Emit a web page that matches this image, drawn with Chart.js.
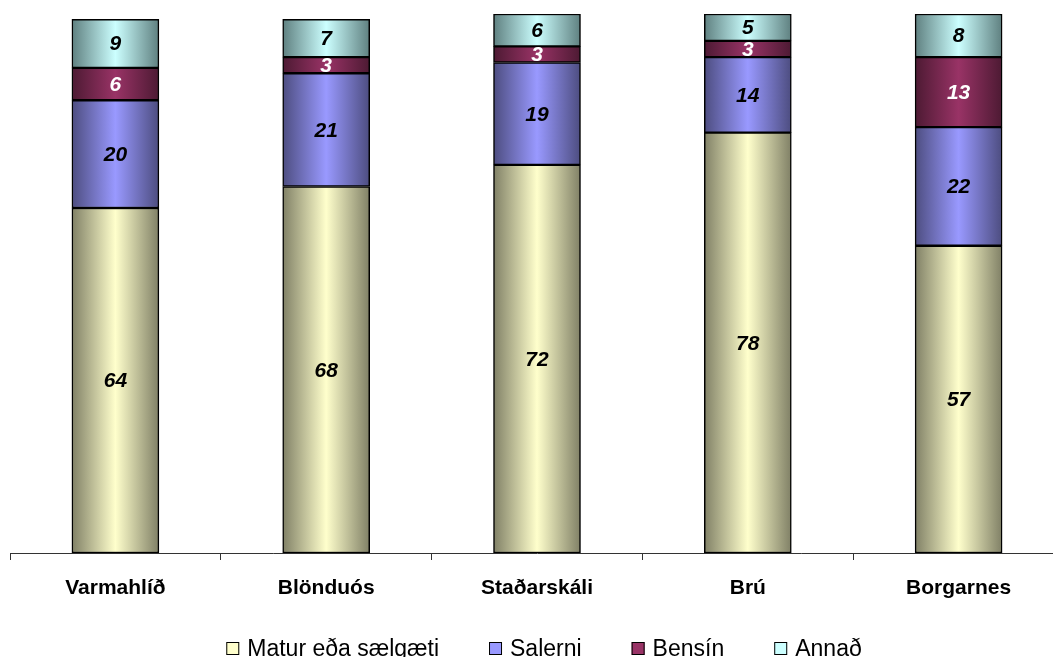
<!DOCTYPE html>
<html>
<head>
<meta charset="utf-8">
<script src="https://cdn.jsdelivr.net/npm/chart.js@4/dist/chart.umd.min.js"></script>
<style>
  html, body { margin: 0; padding: 0; background: #fff; overflow: hidden; }
  #wrap { width: 1053px; height: 657px; overflow: hidden; }
</style>
</head>
<body>
<div id="wrap"><canvas id="chart" width="1064" height="657"></canvas></div>
<script>
// staðir
var stadir = ["Varmahlíð", "Blönduós", "Staðarskáli", "Brú", "Borgarnes"];

// hlutfall (%) eftir ástæðu stopps
var matur   = [64, 68, 72, 78, 57];
var salerni = [20, 21, 19, 14, 22];
var bensin  = [6, 3, 3, 3, 13];
var annad   = [9, 7, 6, 5, 8];

var heiti = ["Matur eða sælgæti", "Salerni", "Bensín", "Annað"];

// litir: ljós miðja, dökkir jaðrar
var ljosir  = ["#FFFFCC", "#9999FF", "#993366", "#CCFFFF"];
var dokkir  = ["#808066", "#4D4D80", "#4D1A33", "#5F8080"];
var letur   = ["#000", "#000", "#fff", "#000"];

var BREIDD = 87;

function stigull(i) {
  return function (c) {
    var chart = c.chart;
    if (!chart.chartArea || c.dataIndex === undefined) return ljosir[i];
    var x = chart.scales.x.getPixelForValue(c.dataIndex);
    var g = chart.ctx.createLinearGradient(x - BREIDD / 2, 0, x + BREIDD / 2, 0);
    g.addColorStop(0, dokkir[i]);
    g.addColorStop(0.5, ljosir[i]);
    g.addColorStop(1, dokkir[i]);
    return g;
  };
}

// tölur inni í súlunum
var gildaMerki = {
  id: 'gildaMerki',
  afterDatasetsDraw: function (chart) {
    var ctx = chart.ctx;
    ctx.save();
    ctx.font = 'italic bold 21px "Liberation Sans", Arial, sans-serif';
    ctx.textAlign = 'center';
    ctx.textBaseline = 'middle';
    chart.data.datasets.forEach(function (ds, i) {
      var meta = chart.getDatasetMeta(i);
      meta.data.forEach(function (el, j) {
        ctx.fillStyle = letur[i];
        ctx.fillText(ds.data[j], el.x, (el.y + el.base) / 2 + 1);
      });
    });
    ctx.restore();
  }
};

// skýringar neðst
var skyring = {
  id: 'skyring',
  afterDraw: function (chart) {
    var ctx = chart.ctx;
    ctx.save();
    ctx.font = '23px "Liberation Sans", Arial, sans-serif';
    ctx.textBaseline = 'alphabetic';
    var box = 13, bil = 8, milli = 50;
    var heild = 0;
    heiti.forEach(function (t, i) {
      heild += box + bil + ctx.measureText(t).width + (i < heiti.length - 1 ? milli : 0);
    });
    var x = 544 - heild / 2;
    var y = 656;
    heiti.forEach(function (t, i) {
      ctx.fillStyle = ljosir[i];
      ctx.fillRect(x, y - 14, box, box);
      ctx.strokeStyle = '#000';
      ctx.lineWidth = 1;
      ctx.strokeRect(x + 0.5, y - 13.5, box - 1, box - 1);
      ctx.fillStyle = '#000';
      ctx.fillText(t, x + box + bil, y);
      x += box + bil + ctx.measureText(t).width + milli;
    });
    ctx.restore();
  }
};

function rod(i, gogn) {
  return {
    label: heiti[i],
    data: gogn,
    backgroundColor: stigull(i),
    borderColor: '#000',
    borderWidth: 1.5,
    borderSkipped: false,
    barThickness: BREIDD
  };
}

new Chart(document.getElementById('chart'), {
  type: 'bar',
  data: {
    labels: stadir,
    datasets: [rod(0, matur), rod(1, salerni), rod(2, bensin), rod(3, annad)]
  },
  options: {
    responsive: false,
    animation: false,
    devicePixelRatio: 1,
    layout: { padding: { top: 14, left: 10, right: 0, bottom: 0 } },
    plugins: {
      legend: { display: false },
      tooltip: { enabled: false }
    },
    scales: {
      x: {
        stacked: true,
        offset: true,
        grid: { display: true, drawOnChartArea: false, drawTicks: true, tickLength: 7, color: '#333', offset: true },
        border: { display: true, color: '#333', width: 1 },
        ticks: {
          color: '#000',
          padding: 16,
          font: { family: '"Liberation Sans", Arial, sans-serif', size: 21, weight: 'bold' }
        },
        afterFit: function (s) { s.height = 104; }
      },
      y: {
        stacked: true,
        display: false,
        min: 0,
        max: 100
      }
    }
  },
  plugins: [gildaMerki, skyring]
});
</script>
</body>
</html>
